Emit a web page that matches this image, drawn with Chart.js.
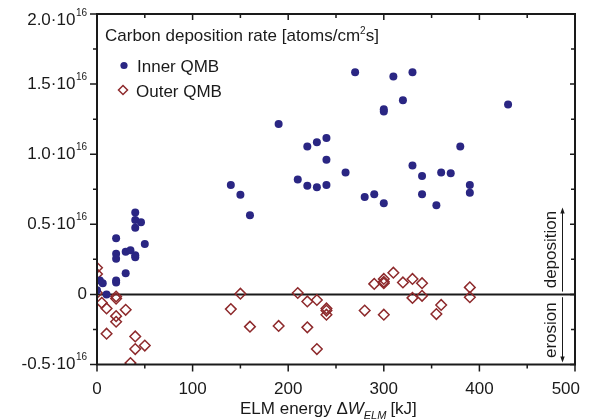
<!DOCTYPE html>
<html>
<head>
<meta charset="utf-8">
<script src="https://cdn.jsdelivr.net/npm/chart.js@4.4.1/dist/chart.umd.min.js"></script>
<style>
  html, body { margin: 0; padding: 0; background: #fff; }
  #wrap { width: 591px; height: 419px; }
</style>
</head>
<body>
<div id="wrap"><canvas id="graficoElm" width="591" height="419"></canvas></div>
<script>
// rate in units of 10^16 atoms/cm^2s, ELM energy in kJ
const innerEnergy = [0, 3, 6, 10, 20, 20, 20, 20, 20, 30, 30, 35, 40, 40, 40, 40, 40, 46, 50,
    140, 150, 160, 190, 210, 220, 220, 230, 230, 240, 240, 240, 260, 270, 280, 290,
    300, 300, 300, 310, 320, 330, 330, 340, 340, 355, 360, 370, 380, 390, 390, 430];
const innerRate = [0.03, 0.10, 0.08, 0.0, 0.40, 0.29, 0.255, 0.10, 0.085, 0.305, 0.15, 0.315,
    0.585, 0.53, 0.475, 0.28, 0.265, 0.515, 0.36,
    0.78, 0.71, 0.565, 1.215, 0.82, 1.055, 0.775, 1.085, 0.765, 1.115, 0.96, 0.78, 0.87, 1.585, 0.695, 0.715,
    1.32, 1.305, 0.65, 1.555, 1.385, 1.585, 0.92, 0.845, 0.715, 0.635, 0.87, 0.865, 1.055, 0.78, 0.725, 1.355];
const outerEnergy = [0, 0, 0, 5, 10, 10, 20, 20, 20, 20, 30, 35, 40, 40, 50,
    140, 150, 160, 190, 210, 220, 220, 230, 230, 240, 240, 240, 280, 290,
    300, 300, 300, 300, 310, 320, 330, 330, 340, 340, 355, 360, 390, 390];
const outerRate = [0.19, 0.145, 0.01, -0.06, -0.10, -0.28, -0.015, -0.03, -0.155, -0.195, -0.11, -0.49, -0.30, -0.39, -0.365,
    -0.105, 0.005, -0.23, -0.225, 0.01, -0.05, -0.235, -0.04, -0.39, -0.10, -0.115, -0.145, -0.115, 0.075,
    0.11, 0.09, 0.08, -0.145, 0.155, 0.085, 0.11, -0.025, 0.08, -0.01, -0.14, -0.075, 0.05, -0.02];

const xTicks = [0, 100, 200, 300, 400, 500];
const yTicks = [-0.5, 0, 0.5, 1.0, 1.5, 2.0];
const yTickLabels = ['-0.5', '0', '0.5', '1.0', '1.5', '2.0'];
const seriesNames = ['Inner QMB', 'Outer QMB'];

const FONT = '"Liberation Sans", Arial, sans-serif';
const INK = '#1a1a1a';
const NAVY = '#2a2683';
const DARKRED = '#8e2a2c';

function toPoints(xs, ys) {
    return xs.map((x, i) => ({ x: x, y: ys[i] }));
}

function diamond(ctx, x, y, r) {
    ctx.beginPath();
    ctx.moveTo(x, y - r);
    ctx.lineTo(x + r, y);
    ctx.lineTo(x, y + r);
    ctx.lineTo(x - r, y);
    ctx.closePath();
}

// eixos estilo Origin: moldura, ticks e textos
const molduraPlugin = {
    id: 'moldura',
    beforeDatasetsDraw(chart) {
        const ctx = chart.ctx, a = chart.chartArea;
        const y0 = chart.scales.y.getPixelForValue(0);
        ctx.save();
        ctx.strokeStyle = INK;
        ctx.lineWidth = 2;
        ctx.beginPath();
        ctx.moveTo(a.left, y0);
        ctx.lineTo(a.right, y0);
        ctx.stroke();
        ctx.restore();
    },
    afterDatasetsDraw(chart) {
        const ctx = chart.ctx, a = chart.chartArea;
        const xs = chart.scales.x, ys = chart.scales.y;
        ctx.save();
        ctx.strokeStyle = INK;
        ctx.fillStyle = INK;
        ctx.lineWidth = 2;
        ctx.strokeRect(a.left, a.top, a.right - a.left, a.bottom - a.top);

        // ticks x (major 100, minor 50)
        ctx.lineWidth = 1.5;
        ctx.beginPath();
        for (let v = 0; v <= 500; v += 50) {
            const px = xs.getPixelForValue(v);
            const major = v % 100 === 0;
            ctx.moveTo(px, a.bottom); ctx.lineTo(px, a.bottom + (major ? 7 : 4));
            ctx.moveTo(px, a.top); ctx.lineTo(px, a.top + (major ? 6 : 4));
        }
        for (let v = -0.5; v <= 2.001; v += 0.25) {
            const py = ys.getPixelForValue(v);
            const major = Math.abs(v * 2 - Math.round(v * 2)) < 1e-6;
            ctx.moveTo(a.left, py); ctx.lineTo(a.left - (major ? 7 : 4), py);
            ctx.moveTo(a.right, py); ctx.lineTo(a.right - (major ? 5 : 4), py);
        }
        ctx.stroke();

        // rótulos y com expoente
        ctx.textBaseline = 'middle';
        yTicks.forEach((v, i) => {
            let py = ys.getPixelForValue(v);
            py = Math.max(py, a.top + 6);
            const right = a.left - 10;
            if (yTickLabels[i] === '0') {
                ctx.font = '17px ' + FONT;
                ctx.textAlign = 'right';
                ctx.fillText('0', right, py);
                return;
            }
            ctx.font = '10px ' + FONT;
            ctx.textAlign = 'right';
            const supW = ctx.measureText('16').width;
            ctx.fillText('16', right, py - 7);
            ctx.font = '17px ' + FONT;
            ctx.fillText(yTickLabels[i] + '\u00b710', right - supW - 0.5, py);
        });

        // rótulos x
        ctx.font = '17px ' + FONT;
        ctx.textAlign = 'center';
        ctx.textBaseline = 'alphabetic';
        xTicks.forEach(v => {
            const label = String(v);
            const w = ctx.measureText(label).width;
            const px = Math.min(xs.getPixelForValue(v), chart.width - 11 - w / 2);
            ctx.fillText(label, px, a.bottom + 29);
        });

        // título do eixo x
        ctx.textAlign = 'left';
        let tx = 240;
        const ty = a.bottom + 49;
        ctx.font = '17px ' + FONT;
        ctx.fillText('ELM energy \u0394', tx, ty);
        tx += ctx.measureText('ELM energy \u0394').width;
        ctx.font = 'italic 17px ' + FONT;
        ctx.fillText('W', tx, ty);
        tx += ctx.measureText('W').width;
        ctx.font = 'italic 11px ' + FONT;
        ctx.fillText('ELM', tx, ty + 5);
        tx += ctx.measureText('ELM').width + 4;
        ctx.font = '17px ' + FONT;
        ctx.fillText('[kJ]', tx, ty);

        // legenda
        let lx = a.left + 8;
        const ly = a.top + 27;
        ctx.fillText('Carbon deposition rate [atoms/cm', lx, ly);
        lx += ctx.measureText('Carbon deposition rate [atoms/cm').width;
        ctx.font = '10px ' + FONT;
        ctx.fillText('2', lx, ly - 7);
        lx += ctx.measureText('2').width;
        ctx.font = '17px ' + FONT;
        ctx.fillText('s]', lx, ly);

        ctx.fillStyle = NAVY;
        ctx.beginPath();
        ctx.arc(a.left + 27, a.top + 51.5, 3.6, 0, Math.PI * 2);
        ctx.fill();
        ctx.strokeStyle = DARKRED;
        ctx.lineWidth = 1.5;
        diamond(ctx, a.left + 26, a.top + 76, 4.5);
        ctx.stroke();
        ctx.fillStyle = INK;
        ctx.fillText(seriesNames[0], a.left + 40, a.top + 58);
        ctx.fillText(seriesNames[1], a.left + 39, a.top + 82.5);

        // deposição / erosão
        const cx = a.right - 23.5;
        ctx.save();
        ctx.translate(cx, ys.getPixelForValue(0.32));
        ctx.rotate(-Math.PI / 2);
        ctx.textAlign = 'center';
        ctx.textBaseline = 'middle';
        ctx.fillText('deposition', 0, 0);
        ctx.restore();
        ctx.save();
        ctx.translate(cx, ys.getPixelForValue(-0.255));
        ctx.rotate(-Math.PI / 2);
        ctx.textAlign = 'center';
        ctx.textBaseline = 'middle';
        ctx.fillText('erosion', 0, 0);
        ctx.restore();

        const ax = a.right - 12.5;
        const upA = ys.getPixelForValue(0.02), upB = ys.getPixelForValue(0.62);
        const dnA = ys.getPixelForValue(-0.02), dnB = ys.getPixelForValue(-0.485);
        ctx.strokeStyle = INK;
        ctx.lineWidth = 1;
        ctx.beginPath();
        ctx.moveTo(ax, upA); ctx.lineTo(ax, upB + 4);
        ctx.moveTo(ax, dnA); ctx.lineTo(ax, dnB - 4);
        ctx.stroke();
        ctx.beginPath();
        ctx.moveTo(ax, upB); ctx.lineTo(ax - 2.2, upB + 6); ctx.lineTo(ax + 2.2, upB + 6); ctx.closePath();
        ctx.moveTo(ax, dnB); ctx.lineTo(ax - 2.2, dnB - 6); ctx.lineTo(ax + 2.2, dnB - 6); ctx.closePath();
        ctx.fill();
        ctx.restore();
    }
};

const ctxElm = document.getElementById('graficoElm').getContext('2d');
const graficoElm = new Chart(ctxElm, {
    type: 'scatter',
    data: {
        datasets: [{
            label: seriesNames[0],
            data: toPoints(innerEnergy, innerRate),
            pointStyle: 'circle',
            pointRadius: 4,
            backgroundColor: NAVY,
            borderColor: NAVY,
            borderWidth: 0,
            clip: 0
        }, {
            label: seriesNames[1],
            data: toPoints(outerEnergy, outerRate),
            pointStyle: 'rectRot',
            pointRadius: 5.3,
            backgroundColor: 'rgba(0,0,0,0)',
            borderColor: DARKRED,
            borderWidth: 1.5,
            clip: 0
        }]
    },
    options: {
        responsive: false,
        animation: false,
        devicePixelRatio: 1,
        layout: { padding: { top: 14, right: 16, left: 0, bottom: 0 } },
        scales: {
            x: {
                type: 'linear',
                min: 0,
                max: 500,
                grid: { display: false },
                border: { display: false },
                ticks: { display: false },
                afterFit: s => { s.height = 54.5; }
            },
            y: {
                type: 'linear',
                min: -0.5,
                max: 2.0,
                grid: { display: false },
                border: { display: false },
                ticks: { display: false },
                afterFit: s => { s.width = 97; }
            }
        },
        plugins: {
            legend: { display: false },
            tooltip: { enabled: false }
        }
    },
    plugins: [molduraPlugin]
});
</script>
</body>
</html>
